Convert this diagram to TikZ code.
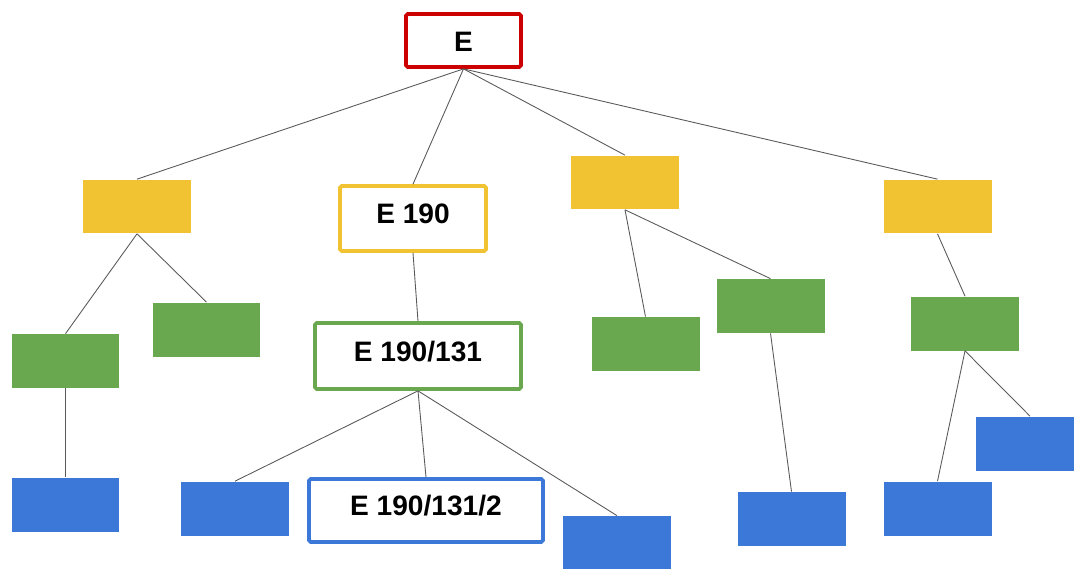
\documentclass[tikz,border=0pt]{standalone}
\usepackage{fontspec}
\setmainfont{Liberation Sans}
\usetikzlibrary{positioning}

\definecolor{gred}{HTML}{CC0000}
\definecolor{gyellow}{HTML}{F1C232}
\definecolor{ggreen}{HTML}{6AA84F}
\definecolor{gblue}{HTML}{3C78D8}
\definecolor{edgegray}{HTML}{595959}

\begin{document}
\begin{tikzpicture}[
        x=0.02cm, y=-0.02cm,
        font=\fontsize{16}{19}\selectfont\bfseries,
        box/.style={rectangle, minimum width=2.16cm, minimum height=1.08cm, inner sep=0pt, draw=none},
        lvlone/.style={box, fill=gyellow},
        lvltwo/.style={box, fill=ggreen},
        lvlthree/.style={box, fill=gblue},
        path/.style={rectangle, rounded corners=1pt, line width=0.075cm, fill=white,
                     text height=0.76em, text depth=0.16em, inner sep=0pt},
        edge/.style={draw=edgegray, line width=0.5pt}
    ]

    \useasboundingbox (0,0) rectangle (1074,568);
    \clip (0,0) rectangle (1074,568);

    % Root
    \node[path, draw=gred, text height=1.24em, text depth=0pt, minimum width=2.3cm, minimum height=1.06cm] (root) at (463.5,40.5) {E};

    % First level
    \node[lvlone] (a) at (137,206.5) {};
    \node[path, draw=gyellow, minimum width=2.92cm, minimum height=1.3cm] (b) at (413,218.5) {E 190};
    \node[lvlone] (c) at (625,182.5) {};
    \node[lvlone] (d) at (937.5,206.5) {};

    % Second level
    \node[lvltwo] (a1) at (65.5,361) {};
    \node[lvltwo] (a2) at (206.5,329.5) {};
    \node[path, draw=ggreen, minimum width=4.12cm, minimum height=1.32cm] (b1) at (418,356) {E 190/131};
    \node[lvltwo] (c1) at (645.5,344) {};
    \node[lvltwo] (c2) at (770.5,306) {};
    \node[lvltwo] (d1) at (965,323.5) {};

    % Third level
    \node[lvlthree] (a11) at (65.5,504.5) {};
    \node[lvlthree] (b11) at (235,508.5) {};
    \node[path, draw=gblue, minimum width=4.68cm, minimum height=1.26cm] (b12) at (426,510.5) {E 190/131/2};
    \node[lvlthree] (b13) at (617,543) {};
    \node[lvlthree] (c21) at (791.5,519) {};
    \node[lvlthree] (d11) at (1030,443.5) {};
    \node[lvlthree] (d12) at (937.5,508.5) {};

    % Lines
    \foreach \p/\c in {root/a, root/b, root/c, root/d,
                       a/a1, a/a2, b/b1, c/c1, c/c2, d/d1,
                       a1/a11, b1/b11, b1/b12, b1/b13, c2/c21, d1/d11, d1/d12}
        \draw[edge] (\p.south) -- (\c.north);

\end{tikzpicture}
\end{document}
